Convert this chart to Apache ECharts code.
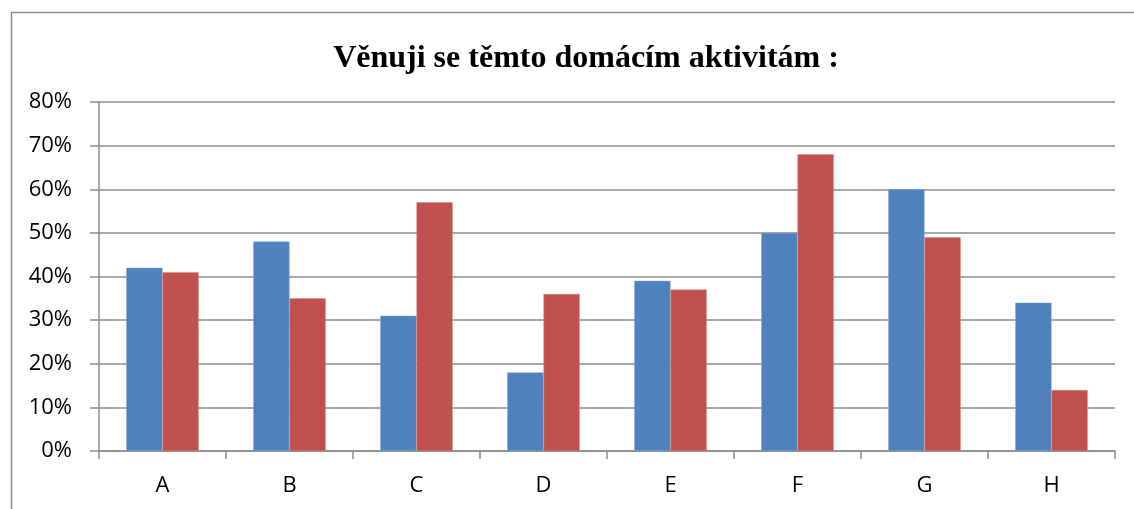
<!DOCTYPE html>
<html>
<head>
<meta charset="utf-8">
<script src="https://cdn.jsdelivr.net/npm/echarts@6/dist/echarts.min.js"></script>
<style>
  html, body { margin: 0; padding: 0; background: #fff; }
  #chart { width: 1134px; height: 509px; }
</style>
</head>
<body>
<div id="chart"></div>
<script>
var categories = ['A', 'B', 'C', 'D', 'E', 'F', 'G', 'H'];
var blueValues = [0.42, 0.48, 0.31, 0.18, 0.39, 0.50, 0.60, 0.34];
var redValues = [0.41, 0.35, 0.57, 0.36, 0.37, 0.68, 0.49, 0.14];
var titleText = 'Věnuji se těmto domácím aktivitám :';

var chart = echarts.init(document.getElementById('chart'), null, { renderer: 'canvas' });

var option = {
  animation: false,
  title: {
    text: titleText,
    left: 581,
    textAlign: 'center',
    top: 38,
    textStyle: {
      fontFamily: 'Liberation Serif',
      fontWeight: 'bold',
      fontSize: 32,
      color: '#000'
    }
  },
  graphic: [{
    type: 'rect',
    shape: { x: 11.5, y: 12.5, width: 1140, height: 520 },
    style: { fill: 'none', stroke: '#8c8c8c', lineWidth: 1.5 },
    silent: true
  }],
  grid: { left: 99, right: 19, top: 102, bottom: 58 },
  xAxis: {
    type: 'category',
    data: categories,
    axisLine: { lineStyle: { color: '#8c8c8c', width: 1.5 } },
    axisTick: { show: true, alignWithLabel: false, length: 8, lineStyle: { color: '#8c8c8c', width: 1.5 } },
    axisLabel: { color: '#000', fontFamily: 'Open Sans', fontSize: 22, margin: 24 }
  },
  yAxis: {
    type: 'value',
    min: 0,
    max: 0.8,
    interval: 0.1,
    axisLine: { show: true, lineStyle: { color: '#8c8c8c', width: 1.5 } },
    axisTick: { show: true, length: 9, lineStyle: { color: '#8c8c8c', width: 1.5 } },
    splitLine: { lineStyle: { color: '#8c8c8c', width: 1.5 } },
    axisLabel: {
      color: '#000',
      fontFamily: 'Open Sans',
      fontSize: 22,
      margin: 27,
      formatter: function (v) { return Math.round(v * 100) + '%'; }
    }
  },
  series: [{
    type: 'bar',
    data: blueValues,
    barGap: '0%',
    barCategoryGap: '43%',
    itemStyle: { color: '#4f81bd', borderColor: '#7fa3d1', borderWidth: 0.5 }
  }, {
    type: 'bar',
    data: redValues,
    itemStyle: { color: '#c0504d', borderColor: '#d88482', borderWidth: 0.5 }
  }]
};

chart.setOption(option);
</script>
</body>
</html>
